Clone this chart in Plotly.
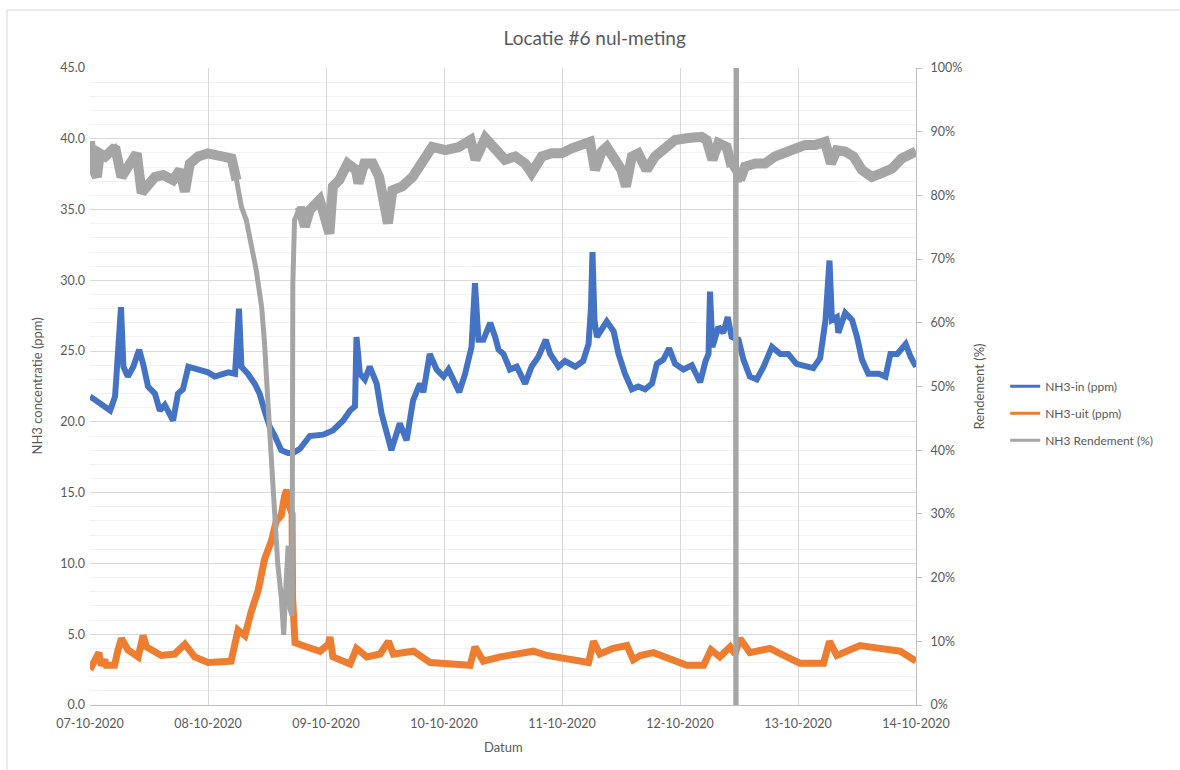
import pandas as pd
import plotly.graph_objects as go

# ---------------- data (hours after 07-10-2020 00:00) ----------------
in_hours = [0, 1.7, 4.1, 5.1, 5.9, 6.3, 6.8, 7.7, 8.8, 10.0, 10.8, 11.8, 13.2, 14.2, 15.2, 16.9,
            17.9, 18.9, 20.0, 22.0, 24.0, 25.4, 26.8, 28.1, 29.5, 30.3, 30.8, 32.1, 33.5, 34.5,
            35.5, 36.5, 37.6, 38.9, 40.3, 41.3, 42.7, 44.7, 47.4, 49.4, 51.5, 52.9, 53.9, 54.2,
            54.9, 55.9, 56.9, 58.3, 59.3, 60.3, 61.3, 63.0, 64.4, 65.7, 67.1, 67.8, 69.1, 70.5,
            71.9, 72.9, 73.9, 75.1, 76.3, 77.6, 78.3, 79.0, 80.0, 81.4, 82.4, 83.1, 84.1, 85.4,
            86.8, 88.5, 89.8, 91.2, 92.7, 93.6, 95.3, 96.6, 98.7, 100.3, 101.4, 101.9, 102.2,
            102.6, 103.1, 104.1, 105.1, 106.5, 107.5, 108.8, 110.2, 111.5, 112.9, 114.3, 115.3,
            116.6, 117.8, 119.0, 120.7, 122.4, 124.1, 125.2, 125.8, 126.1, 126.6, 127.8, 128.8,
            129.7, 130.5, 131.9, 132.9, 134.2, 135.6, 137.0, 138.7, 140.4, 142.0, 143.7, 145.4,
            147.1, 148.5, 149.6, 150.4, 150.9, 151.9, 152.2, 153.6, 155.0, 156.0, 157.0, 158.3,
            160.4, 161.8, 162.8, 164.2, 165.9, 166.9, 168]
nh3_in = [21.8, 21.4, 20.8, 21.8, 25.3, 28.1, 23.9, 23.2, 23.9, 25.1, 24.1, 22.5, 22.0, 20.8, 21.2, 20.1,
          22.0, 22.3, 23.9, 23.7, 23.5, 23.2, 23.4, 23.5, 23.4, 28.0, 23.9, 23.4, 22.7, 22.0,
          20.8, 19.7, 19.0, 18.0, 17.8, 17.8, 18.1, 19.0, 19.1, 19.4, 20.1, 20.8, 21.1, 26.0,
          23.4, 23.0, 23.9, 22.7, 20.6, 19.4, 18.0, 19.9, 18.7, 21.5, 22.7, 22.1, 24.8, 23.7,
          23.2, 23.7, 23.0, 22.1, 23.4, 25.3, 29.8, 25.8, 25.8, 27.0, 26.0, 25.1, 24.8, 23.7,
          23.9, 22.7, 23.9, 24.6, 25.8, 24.8, 23.9, 24.3, 23.9, 24.3, 25.5, 28.1, 32.0,
          27.2, 26.0, 26.5, 27.1, 26.4, 24.8, 23.4, 22.3, 22.5, 22.3, 22.7, 24.1,
          24.4, 25.2, 24.1, 23.7, 24.0, 22.8, 24.3, 24.8, 29.2, 25.3, 26.7, 26.3,
          27.4, 26.0, 25.8, 24.4, 23.2, 23.0, 23.9, 25.3, 24.8, 24.8, 24.1, 23.9,
          23.8, 24.5, 27.2, 31.4, 27.2, 27.4, 26.3, 27.7, 27.2, 26.0, 24.4, 23.4,
          23.4, 23.2, 24.8, 24.8, 25.5, 24.6, 23.9]

uit_hours = [0, 1.3, 1.8, 2.3, 3.0, 3.3, 5.0, 5.7, 6.4, 7.7, 9.8, 10.8, 11.5, 14.5, 17.2, 19.3, 21.3, 24,
             28.7, 30.1, 31.5, 32.8, 34.2, 35.5, 36.9, 37.9, 38.9, 39.6, 40.0, 40.6, 41.1, 41.2, 41.7,
             44.1, 46.8, 48.5, 48.8, 49.4, 52.9, 54.2, 56.3, 59, 60.7, 61.7, 65.8, 69.2, 74.6, 77.3,
             78.3, 80, 83.4, 86.8, 90.2, 92.9, 98.3, 101.4, 102.4, 103.7, 106.4, 109.2, 110.5, 111.9,
             114.6, 117.3, 121.4, 124.8, 126.3, 128.1, 130.2, 131.2, 132.2, 134.2, 138.3, 141.7, 144.4,
             149.2, 150.4, 151.9, 156.6, 160.7, 164.8, 168]
nh3_uit = [2.5, 3.5, 3.7, 2.8, 3.2, 2.8, 2.8, 3.9, 4.7, 3.9, 3.4, 4.9, 4.1, 3.5, 3.6, 4.3, 3.4, 3.0,
           3.1, 5.3, 4.9, 6.6, 8.1, 10.3, 11.6, 13.0, 13.4, 14.8, 15.2, 14.0, 13.5, 7.6, 4.4,
           4.1, 3.8, 4.3, 4.8, 3.4, 2.9, 4.0, 3.4, 3.6, 4.5, 3.6, 3.8, 3.0, 2.8, 2.8,
           4.1, 3.1, 3.4, 3.6, 3.8, 3.5, 3.2, 3.0, 4.5, 3.6, 4.0, 4.2, 3.2, 3.5,
           3.7, 3.3, 2.8, 2.8, 3.9, 3.4, 4.1, 3.6, 4.7, 3.7, 4.0, 3.4, 2.95,
           2.95, 4.5, 3.5, 4.2, 4.0, 3.8, 3.1]

rend_hours = [0, 0.7, 1.4, 2.0, 3.1, 4.1, 5.1, 6.4, 7.8, 9.5, 10.5, 11.5, 13.2, 14.9, 16.9, 18.3,
              19.3, 20.3, 22.0, 24.0, 26.8, 28.8, 29.8, 30.8, 31.8, 32.8, 33.8, 34.9, 35.5, 36.2,
              36.8, 37.5, 38.2, 38.9, 39.4, 39.8, 40.3, 40.7, 41.1, 41.25, 41.6, 42.7, 43.7, 44.7,
              46.7, 47.7, 48.7, 49.4, 50.7, 52.4, 54.1, 54.6, 55.8, 57.5, 58.8, 59.8, 60.6, 61.5,
              63.5, 65.6, 67.6, 69.6, 72.3, 75.0, 77.4, 78.4, 80.4, 82.4, 84.4, 86.5, 88.5, 89.8,
              91.9, 93.9, 95.9, 98.0, 100.0, 101.7, 102.7, 104.1, 105.1, 106.8, 108.1, 109.0, 110.2,
              111.5, 113.2, 114.9, 117.0, 119.0, 121.7, 124.4, 125.4, 126.6, 127.8, 129.5, 130.5,
              131.3, 131.4, 131.4, 131.5, 132.2, 133.2, 135.3, 137.3, 139.3, 141.4, 143.4, 145.4,
              147.5, 149.5, 150.7, 151.9, 153.6, 155.3, 157.0, 159.0, 161.0, 163.1, 165.1, 168]
rendement = [88.5, 84.0, 82.9, 86.6, 86.1, 87.1, 87.6, 82.9, 84.5, 86.6, 80.4, 81.4, 82.9, 83.2, 82.4, 84.0,
             80.6, 85.0, 86.1, 86.6, 86.1, 85.8, 82.4, 78.2, 76.1, 71.9, 68.3, 62.5, 56.8, 47.4,
             39.5, 30.0, 22.0, 17.0, 11.0, 18.0, 25.0, 15.0, 14.0, 66.0, 76.1, 78.2, 75.1, 77.7,
             79.3, 76.7, 74.0, 81.4, 82.4, 85.0, 84.0, 81.9, 85.0, 85.0, 82.9, 78.8, 75.6, 80.8,
             81.4, 82.9, 85.6, 87.6, 87.1, 87.6, 88.7, 85.6, 89.0, 87.1, 85.6, 86.1, 85.0, 83.5,
             86.1, 86.6, 86.6, 87.4, 87.9, 88.4, 84.0, 86.9, 87.6, 85.6, 84.0, 81.4, 86.1,
             86.6, 84.0, 86.1, 87.6, 88.7, 89.0, 89.2, 88.7, 85.6, 88.2, 87.6, 84.5,
             83.5, -100, 200, 82.4, 82.4, 84.5, 85.0, 85.0, 86.1, 86.6, 87.4, 87.9,
             87.9, 88.4, 85.0, 87.1, 86.9, 86.1, 84.0, 82.9, 83.5, 84.2, 85.8, 86.9]

day_ticks = ["2020-10-07", "2020-10-08", "2020-10-09", "2020-10-10",
             "2020-10-11", "2020-10-12", "2020-10-13", "2020-10-14"]
day_labels = ["07-10-2020", "08-10-2020", "09-10-2020", "10-10-2020",
              "11-10-2020", "12-10-2020", "13-10-2020", "14-10-2020"]

names = ["NH3-in (ppm)", "NH3-uit (ppm)", "NH3 Rendement (%)"]
colors = ["#4472C4", "#ED7D31", "#A5A5A5"]

assert len(in_hours) == len(nh3_in)
assert len(uit_hours) == len(nh3_uit)
assert len(rend_hours) == len(rendement)

start = pd.Timestamp("2020-10-07")
def to_time(hours):
    return start + pd.to_timedelta(hours, unit="h")

FONT = "Lato, 'Open Sans', sans-serif"
TXT = "#595959"

# the measured rendement shows a wide noise band on its stable stretches
rend_band = [None if (30.3 <= h <= 42.0 or 131.0 <= h <= 131.9) else v
             for h, v in zip(rend_hours, rendement)]

fig = go.Figure()
fig.add_trace(go.Scatter(x=to_time(in_hours), y=nh3_in, mode="lines", name=names[0],
                         line=dict(color=colors[0], width=6), showlegend=False))
fig.add_trace(go.Scatter(x=to_time(uit_hours), y=nh3_uit, mode="lines", name=names[1],
                         line=dict(color=colors[1], width=7), showlegend=False))
fig.add_trace(go.Scatter(x=to_time(rend_hours), y=rendement, mode="lines", name=names[2],
                         line=dict(color=colors[2], width=5), yaxis="y2", showlegend=False))
fig.add_trace(go.Scatter(x=to_time(rend_hours), y=rend_band, mode="lines", name=names[2],
                         line=dict(color=colors[2], width=10), yaxis="y2", showlegend=False,
                         connectgaps=False))
# legend entries
for i, (n, c) in enumerate(zip(names, colors)):
    fig.add_trace(go.Scatter(x=[None], y=[None], mode="lines", name=n,
                             line=dict(color=c, width=3), legendgroup=str(i),
                             yaxis="y2" if i == 2 else "y"))

fig.update_layout(
    width=1180, height=770,
    margin=dict(l=90, r=264, t=68, b=65),
    paper_bgcolor="white", plot_bgcolor="white",
    font=dict(family=FONT, color=TXT, size=12),
    title=dict(text="Locatie #6 nul-meting", x=0.504, xref="container", xanchor="center",
               y=1 - 38 / 770, yref="container", yanchor="middle",
               font=dict(size=19, color=TXT, family=FONT)),
    xaxis=dict(type="date", range=[day_ticks[0], day_ticks[-1]], tickvals=day_ticks,
               ticktext=day_labels, showgrid=True, gridcolor="#d9d9d9", gridwidth=1,
               showline=True, linecolor="#bfbfbf", ticks="", zeroline=False,
               ticklabelstandoff=7, tickfont=dict(size=12.5, color=TXT)),
    yaxis=dict(range=[0, 45], dtick=5, tickformat=".1f", showgrid=True, gridcolor="#d9d9d9",
               minor=dict(dtick=1, showgrid=True, gridcolor="#f2f2f2", gridwidth=1),
               zeroline=False, showline=False, ticks="", ticklabelstandoff=4,
               tickfont=dict(size=12.5, color=TXT)),
    yaxis2=dict(range=[0, 100], dtick=10, ticksuffix="%", overlaying="y", side="right",
                showgrid=False, zeroline=False, showline=True, linecolor="#bfbfbf",
                ticks="outside", ticklen=5, tickcolor="#bfbfbf", ticklabelstandoff=6,
                tickfont=dict(size=12.5, color=TXT)),
    legend=dict(x=1.108, xanchor="left", y=0.458, yanchor="middle", traceorder="grouped",
                tracegroupgap=8, font=dict(size=12, color=TXT), bgcolor="rgba(0,0,0,0)"),
    annotations=[
        dict(text="NH3 concentratie (ppm)", xref="paper", yref="paper",
             x=(36 - 90) / 826, y=0.5, textangle=-90, showarrow=False,
             xanchor="center", yanchor="middle", font=dict(size=13, color=TXT)),
        dict(text="Rendement (%)", xref="paper", yref="paper",
             x=(978 - 90) / 826, y=0.5, textangle=-90, showarrow=False,
             xanchor="center", yanchor="middle", font=dict(size=13, color=TXT)),
        dict(text="Datum", xref="paper", yref="paper",
             x=0.5, y=(705 - 747) / 637, showarrow=False,
             xanchor="center", yanchor="middle", font=dict(size=13, color=TXT)),
    ],
    shapes=[dict(type="rect", xref="paper", yref="paper",
                 x0=(7 - 90) / 826, x1=(1200 - 90) / 826,
                 y0=(705 - 790) / 637, y1=(705 - 10) / 637,
                 line=dict(color="#d9d9d9", width=1), layer="below")],
)

fig.write_html("out.html", config={"displayModeBar": False},
               post_script="document.body.style.margin='0';")
